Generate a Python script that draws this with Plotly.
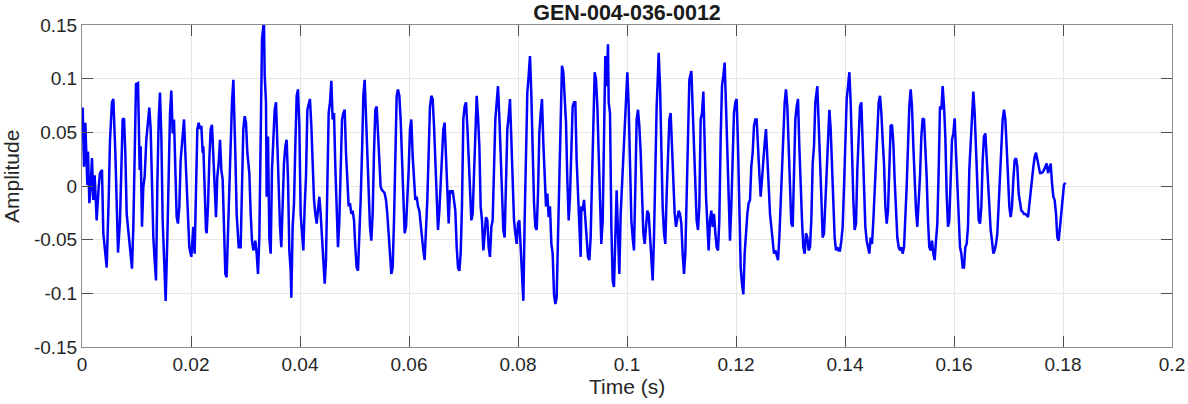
import plotly.graph_objects as go

# waveform: time in ms, amplitude
time_ms = [
    0.0, 0.12, 0.37, 0.61, 0.98, 1.10, 1.35, 1.59, 1.83, 2.08, 2.32, 2.69, 3.06, 3.30, 3.67, 3.91,
    4.28, 4.53, 4.89, 5.14, 5.50, 5.75, 6.12, 6.36, 6.61, 6.97, 7.22, 7.46, 7.71, 7.95, 8.20, 8.44,
    8.81, 9.17, 9.42, 9.66, 9.91, 10.28, 10.46, 10.58, 10.76, 11.01, 11.25, 11.50, 11.80, 12.11,
    12.35, 12.60, 12.84, 13.09, 13.33, 13.58, 13.82, 14.07, 14.31, 14.56, 14.80, 15.05, 15.35,
    15.66, 15.90, 16.15, 16.39, 16.64, 16.88, 17.13, 17.37, 17.61, 17.86, 18.10, 18.47, 18.72,
    18.96, 19.33, 19.69, 20.06, 20.43, 20.67, 20.92, 21.16, 21.41, 21.65, 21.90, 22.14,
    22.26, 22.51, 22.75, 22.87, 23.12, 23.36, 23.61, 23.85, 24.10, 24.34, 24.59, 24.83, 25.08,
    25.32, 25.57, 25.81, 26.06, 26.30, 26.54, 26.79, 27.03, 27.28, 27.52, 27.77, 27.89, 28.13,
    28.38, 28.75, 29.11, 29.36, 29.60, 29.85, 30.09, 30.34, 30.70, 30.95, 31.19, 31.44, 31.80,
    32.05, 32.29, 32.54, 32.78, 33.03, 33.27, 33.39, 33.52, 33.76, 33.88, 34.13, 34.37, 34.62,
    34.86, 35.11, 35.35, 35.60, 35.84, 36.09, 36.33, 36.57, 36.82, 37.06, 37.31, 37.55, 37.80,
    38.04, 38.29, 38.41, 38.65, 38.90, 39.14, 39.39, 39.63, 39.88, 40.12, 40.37, 40.61, 40.86,
    41.10, 41.35, 41.59, 41.83, 42.08, 42.32, 42.57, 42.81, 43.06, 43.30, 43.55, 43.79, 44.04,
    44.28, 44.53, 44.77, 45.02, 45.26,
    45.50, 45.75, 45.99, 46.24, 46.48, 46.73, 46.97, 47.22, 47.46, 47.71, 47.95, 48.20, 48.44,
    48.69, 48.93, 49.17, 49.42, 49.66, 49.91, 50.15, 50.40, 50.64, 50.89, 51.13, 51.38, 51.62,
    51.87, 52.11, 52.35, 52.60, 52.84, 53.09, 53.33, 53.58, 53.82, 54.07, 54.31, 54.56, 54.80,
    55.05, 55.29, 55.54, 55.78, 56.02, 56.27, 56.51, 56.76, 57.00, 57.25, 57.49, 57.74, 57.98,
    58.23, 58.47, 58.72, 58.96, 59.20, 59.45, 59.69, 59.94, 60.18, 60.43, 60.67, 60.92, 61.16,
    61.41, 61.65, 61.90, 62.14, 62.39, 62.63, 62.87, 63.12, 63.36, 63.61, 63.85, 64.10, 64.34,
    64.59, 64.83, 65.08, 65.32, 65.57, 65.81, 66.06, 66.30, 66.54, 66.79,
    66.91, 67.03, 67.28, 67.52, 67.77, 68.01, 68.26, 68.50, 68.75, 68.99, 69.24, 69.48, 69.72,
    69.97, 70.21, 70.46, 70.70, 70.95, 71.19, 71.44, 71.68, 71.93, 72.17, 72.42, 72.66, 72.91,
    73.15, 73.39, 73.64, 73.88, 74.13, 74.37, 74.62, 74.86, 75.11, 75.35, 75.60, 75.84, 76.09,
    76.33, 76.57, 76.82, 77.06, 77.31, 77.55, 77.80, 78.04, 78.29, 78.53, 78.78, 79.02, 79.27,
    79.51, 79.76, 80.00, 80.24, 80.49, 80.73, 80.98, 81.22, 81.47, 81.71, 81.96, 82.20, 82.45,
    82.69, 82.94, 83.18, 83.43, 83.67, 83.91, 84.16, 84.40, 84.65, 84.89, 85.14, 85.38, 85.63,
    85.87, 86.12, 86.36, 86.61, 86.85, 87.09, 87.34, 87.58, 87.83, 88.07, 88.32, 88.56, 88.81,
    89.05, 89.30, 89.54,
    89.79, 90.03, 90.28, 90.52, 90.76, 91.01, 91.25, 91.50, 91.62, 91.87, 92.11, 92.35, 92.60,
    92.84, 93.09, 93.33, 93.58, 93.82, 94.07, 94.31, 94.56, 94.80, 95.05, 95.29, 95.54, 95.78,
    96.02, 96.27, 96.51, 96.64, 96.88, 97.13, 97.37, 97.61, 97.86, 98.10, 98.35, 98.59, 98.84,
    99.08, 99.33, 99.57, 99.82, 100.06, 100.31, 100.55, 100.80, 101.04, 101.28, 101.53, 101.77,
    102.02, 102.26, 102.51, 102.75, 103.00, 103.24, 103.49, 103.73, 103.98, 104.22, 104.46,
    104.71, 104.95, 105.20, 105.44, 105.69, 105.81, 106.06, 106.30, 106.54, 106.79, 107.03,
    107.28, 107.52, 107.77, 108.01, 108.26, 108.50, 108.75, 108.99, 109.24, 109.48, 109.72,
    109.97, 110.21, 110.46, 110.70, 110.95, 111.19,
    111.44, 111.81, 112.05, 112.29, 112.54, 112.78, 113.03, 113.27, 113.52, 113.76, 114.01,
    114.25, 114.50, 114.74, 114.98, 115.23, 115.47, 115.72, 115.96, 116.21, 116.45, 116.70,
    116.94, 117.19, 117.43, 117.68, 117.92, 118.17, 118.41, 118.65, 118.90, 119.14, 119.39,
    119.63, 119.88, 120.12, 120.37, 120.61, 120.86, 121.10, 121.35, 121.59, 121.83, 122.08,
    122.32, 122.57, 122.81, 123.06, 123.30, 123.55, 123.79, 124.04, 124.28, 124.53, 124.77,
    125.02, 125.26, 125.50, 125.75, 125.99, 126.24, 126.48, 126.73, 126.97, 127.22, 127.46,
    127.71, 127.95, 128.20, 128.44, 128.69, 128.93, 129.17, 129.42, 129.66, 129.91, 130.15,
    130.40, 130.64, 130.89, 131.13, 131.38, 131.62, 131.87, 132.11, 132.35, 132.60, 132.84,
    133.09, 133.33, 133.58,
    133.82, 134.07, 134.31, 134.56, 134.92, 135.17, 135.41, 135.66, 135.90, 136.15, 136.39,
    136.64, 136.88, 137.13, 137.37, 137.61, 137.86, 138.10, 138.35, 138.59, 138.84, 139.08,
    139.33, 139.57, 139.82, 140.06, 140.31, 140.55, 140.80, 141.04, 141.28, 141.53, 141.77,
    142.02, 142.26, 142.51, 142.75, 143.00, 143.24, 143.49, 143.73, 143.98, 144.22, 144.46,
    144.71, 144.95, 145.20, 145.44, 145.69, 145.93, 146.18, 146.42, 146.67, 146.91, 147.16,
    147.40, 147.65, 147.89, 148.13, 148.38, 148.62, 148.87, 149.11, 149.36, 149.60, 149.85,
    150.09, 150.34, 150.58, 150.83, 151.07, 151.31, 151.56, 151.80, 152.05, 152.29, 152.54,
    152.78, 153.03, 153.27, 153.52, 153.76, 154.01, 154.25, 154.50, 154.74, 154.98, 155.23,
    155.47, 155.72, 155.96,
    156.21, 156.45, 156.70, 156.94, 157.19, 157.43, 157.68, 157.92, 158.17, 158.41, 158.65,
    158.90, 159.14, 159.39, 159.63, 159.88, 160.12, 160.37, 160.61, 160.86, 161.10, 161.35,
    161.59, 161.83, 162.08, 162.32, 162.57, 162.81, 163.06, 163.30, 163.55, 163.79, 164.04,
    164.28, 164.53, 164.77, 165.02, 165.26, 165.50, 165.75, 165.99, 166.24, 166.48, 166.73,
    166.97, 167.22, 167.46, 167.71, 167.95, 168.20, 168.44, 168.69, 168.93, 169.17, 169.42,
    169.66, 169.91, 170.15, 170.40, 170.64, 170.89, 171.13, 171.38, 171.62, 171.87, 172.11,
    172.35, 172.60, 172.84, 173.09, 173.33, 173.58, 173.82, 174.07, 174.31, 174.56, 174.80,
    175.05, 175.29, 175.54, 175.78, 176.02, 176.27, 176.51, 176.76, 177.00, 177.25, 177.49,
    177.74, 177.98, 178.23, 178.47, 178.72, 178.96, 179.20, 179.45, 179.69, 179.94, 180.18,
    180.43,
]

amplitude = [
    0.070, 0.073, 0.018, 0.059, 0.001, 0.032, -0.016, -0.001, 0.026, -0.013, 0.010, -0.032,
    -0.001, 0.012, 0.015, -0.044, -0.063, -0.076, -0.013, 0.043, 0.078, 0.081, 0.031, -0.032,
    -0.062, -0.032, 0.024, 0.062, 0.063, 0.031, -0.026, -0.038, -0.063, -0.077, -0.038, 0.031,
    0.095, 0.096, 0.062, 0.015, 0.037, -0.038, -0.001, 0.009, 0.043, 0.062, 0.073, 0.053,
    -0.007, -0.048, -0.069, -0.088, -0.001, 0.062, 0.087, 0.046, -0.032, -0.069, -0.107, -0.048,
    0.031, 0.068, 0.089, 0.049, 0.062, 0.015, -0.029, -0.035, -0.019, 0.024, 0.053, 0.062,
    0.031, -0.019, -0.057, -0.066, -0.038, -0.063, 0.012, 0.053, 0.059, 0.053, 0.056, 0.031,
    0.037, -0.013, -0.041, -0.044, -0.019, 0.024, 0.053, 0.057, 0.024, -0.010, -0.029, 0.009,
    0.021, 0.043, 0.015, 0.006, -0.035, -0.082, -0.085, -0.044, -0.007, 0.056, 0.078, 0.099,
    0.081, 0.031, -0.026, -0.057, -0.057, -0.007, 0.053, 0.065, 0.059, 0.031, 0.012, -0.026,
    -0.051, -0.060, -0.051, -0.063, -0.082, -0.048, 0.046, 0.137, 0.149, 0.152, 0.103, 0.078,
    -0.010, 0.046, -0.048, -0.063, 0.015, 0.046, 0.071, 0.078, 0.034, -0.019, -0.038, -0.057,
    -0.016, 0.021, 0.037, 0.043, 0.006, -0.060, -0.079, -0.104, -0.038, -0.016, 0.037, 0.084,
    0.090, 0.056, -0.026, -0.048, -0.060, -0.019, 0.009, 0.071, 0.078, 0.081, 0.056, 0.015,
    -0.013, -0.026, -0.035, -0.022, -0.010, -0.026, -0.048, -0.060, -0.091, -0.069, 0.006,
    0.068,
    0.078, 0.098, 0.062, 0.068, 0.018, -0.032, -0.057, -0.032, 0.015, 0.062, 0.068, 0.071,
    0.031, -0.004, -0.019, -0.016, -0.026, -0.023, -0.032, -0.057, -0.076, -0.079, -0.051,
    -0.013, 0.031, 0.084, 0.099, 0.062, 0.024, -0.019, -0.038, -0.051, -0.026, 0.031, 0.071,
    0.074, 0.053, 0.031, -0.001, -0.004, -0.005, -0.007, -0.013, -0.026, -0.041, -0.063,
    -0.082, -0.076, -0.032, 0.031, 0.084, 0.090, 0.084, 0.062, 0.024, -0.007, -0.044, -0.038,
    -0.013, 0.015, 0.053, 0.062, 0.028, -0.001, -0.013, -0.010, -0.019, -0.023, -0.038,
    -0.051, -0.060, -0.069, -0.044, -0.013, 0.031, 0.074, 0.084, 0.081, 0.056, 0.018, -0.019,
    -0.041, -0.023, 0.006, 0.037, 0.053, 0.059, 0.024,
    0.006, -0.019, -0.035, -0.004, -0.007, -0.004, -0.013, -0.023, -0.057, -0.076, -0.079,
    -0.063, -0.019, 0.062, 0.074, 0.078, 0.056, 0.021, -0.013, -0.032, -0.026, 0.006, 0.037,
    0.084, 0.065, 0.037, -0.019, -0.032, -0.060, -0.044, -0.029, -0.032, -0.057, -0.066,
    -0.038, -0.032, 0.015, 0.062, 0.078, 0.093, 0.065, 0.024, -0.016, -0.041, -0.048, -0.001,
    0.053, 0.065, 0.081, 0.043, 0.003, -0.032, -0.044, -0.054, -0.035, -0.032, -0.057, -0.082,
    -0.107, -0.032, 0.037, 0.087, 0.103, 0.121, 0.084, 0.024, -0.016, -0.038, -0.041, -0.007,
    0.049, 0.068, 0.081, 0.040, 0.006, -0.019, -0.007, -0.029, -0.019, -0.054, -0.063, -0.101,
    -0.110, -0.104, -0.048, 0.009, 0.078, 0.112, 0.106, 0.081, 0.059, 0.006, -0.032, -0.010,
    0.037, 0.074, 0.078, 0.078, 0.024, -0.010, -0.048, -0.066, -0.019, -0.023, -0.013, -0.032,
    -0.044, -0.066, -0.069, -0.048, 0.006, 0.068, 0.106, 0.099, 0.074, 0.031, -0.026, -0.054,
    -0.032, 0.040, 0.121, 0.093, 0.132, 0.078, 0.068, -0.038, -0.088, -0.094, -0.035, -0.004,
    -0.044, -0.082, -0.026, -0.001, 0.031, 0.062, 0.087, 0.106, 0.074, 0.012, -0.032, -0.048,
    -0.060, -0.001, 0.062, 0.071, 0.056, 0.031, -0.007, -0.044, -0.054, -0.035, -0.023,
    -0.026, -0.044, -0.069, -0.088, -0.048, 0.031, 0.074, 0.106, 0.124, 0.093, 0.031, -0.019,
    -0.044, -0.054, -0.007, 0.037, 0.062, 0.068, 0.037, -0.004, -0.026, -0.038, -0.029,
    -0.023, -0.026, -0.035, -0.063, -0.082, -0.063, -0.007, 0.046,
    0.099, 0.107, 0.074, 0.031, -0.007, -0.032, -0.041, -0.019, 0.062, 0.068, 0.088, 0.037,
    -0.010, -0.035, -0.060, -0.032, -0.023, -0.038, -0.026, -0.044, -0.057, -0.060, -0.032,
    0.046, 0.093, 0.103, 0.115, 0.074, 0.024, -0.019, -0.051, -0.019, 0.031, 0.068, 0.078,
    0.081, 0.037, -0.019, -0.076, -0.091, -0.101, -0.063, -0.038, -0.026, -0.016, -0.013,
    0.018, 0.031, 0.056, 0.062, 0.062, 0.031, 0.012, -0.010, 0.009, 0.024, 0.040, 0.053,
    0.024, -0.007, -0.026, -0.038, -0.051, -0.063, -0.060, -0.066, -0.069, -0.048, -0.013,
    0.024, 0.062, 0.078, 0.090, 0.074, 0.037, -0.007, -0.035, -0.038, 0.015, 0.062, 0.074,
    0.081, 0.037, -0.007, -0.032, -0.057, -0.063, -0.044, -0.048, -0.060, -0.057,
    -0.032, 0.021, 0.037, 0.078, 0.093, 0.062, 0.031, -0.010, -0.048, -0.044, -0.016, 0.015,
    0.056, 0.071, 0.053, 0.015, -0.019, -0.048, -0.060, -0.057, -0.060, -0.060, -0.051,
    -0.038, -0.001, 0.046, 0.081, 0.093, 0.106, 0.078, 0.024, -0.013, -0.041, -0.035, 0.015,
    0.046, 0.074, 0.078, 0.037, -0.001, -0.038, -0.051, -0.057, -0.063, -0.048, -0.054,
    -0.032, -0.007, 0.024, 0.056, 0.078, 0.084, 0.068, 0.043, 0.021, -0.019, -0.035, -0.023,
    0.009, 0.056, 0.057, 0.040, 0.006, -0.026, -0.048, -0.057, -0.060, -0.057, -0.063,
    -0.057, -0.035, -0.001, 0.037, 0.074, 0.090, 0.074, 0.037, 0.003, -0.023, -0.038, -0.019,
    0.009, 0.046, 0.063, 0.062, 0.037, 0.009, -0.032, -0.057, -0.060, -0.051,
    -0.063, -0.069, -0.051, -0.035, 0.015, 0.074, 0.071, 0.093, 0.074, 0.046, -0.007, -0.038,
    -0.032, 0.006, 0.043, 0.049, 0.063, 0.031, -0.001, -0.032, -0.057, -0.063, -0.076,
    -0.076, -0.057, -0.054, -0.038, 0.015, 0.040, 0.068, 0.088, 0.068, 0.037, -0.001, -0.032,
    -0.035, -0.019, 0.024, 0.046, 0.049, 0.024, -0.001, -0.019, -0.041, -0.051, -0.063,
    -0.060, -0.054, -0.044, -0.019, 0.012, 0.043, 0.062, 0.071, 0.062, 0.037, 0.006, -0.019,
    -0.029, -0.019, 0.006, 0.024, 0.026, 0.018, -0.007, -0.016, -0.023, -0.024, -0.026,
    -0.026, -0.027, -0.029, -0.019, -0.007, 0.006, 0.018, 0.027, 0.031, 0.024, 0.015, 0.012,
    0.012, 0.013, 0.015, 0.018, 0.021, 0.012, 0.018, 0.021, 0.003, -0.010, -0.013, -0.026,
    -0.048, -0.051, -0.038, -0.026, -0.010, 0.001, 0.003,
]

x_ticks = [0, 0.02, 0.04, 0.06, 0.08, 0.1, 0.12, 0.14, 0.16, 0.18, 0.2]
x_labels = ["0", "0.02", "0.04", "0.06", "0.08", "0.1", "0.12", "0.14", "0.16", "0.18", "0.2"]
y_ticks = [-0.15, -0.1, -0.05, 0, 0.05, 0.1, 0.15]
y_labels = ["-0.15", "-0.1", "-0.05", "0", "0.05", "0.1", "0.15"]

time_s = [t / 1000 for t in time_ms]

font = "Liberation Sans, Arial, Helvetica, sans-serif"

fig = go.Figure()
fig.add_trace(go.Scatter(x=time_s, y=amplitude, mode="lines",
                         line=dict(color="#0000ff", width=2.5), showlegend=False))

fig.update_layout(
    width=1188, height=404,
    margin=dict(l=82, r=16, t=25, b=57),
    paper_bgcolor="white", plot_bgcolor="white",
    font=dict(family=font, size=19, color="#262626"),
    title=dict(text="<b>GEN-004-036-0012</b>", x=0.5, xref="paper",
               y=0.970, yref="container", yanchor="middle",
               font=dict(size=21.5, color="#1a1a1a")),
)

axis_style = dict(showline=True, linecolor="#8c8c8c", linewidth=1, mirror="ticks",
                  ticks="inside", ticklen=11, tickcolor="#4d4d4d", tickwidth=1,
                  showgrid=True, gridcolor="#e6e6e6", gridwidth=1, zeroline=False,
                  automargin=False)

fig.update_xaxes(range=[0, 0.2], tickvals=x_ticks, ticktext=x_labels, **axis_style)
fig.update_yaxes(range=[-0.15, 0.15], tickvals=y_ticks, ticktext=y_labels, **axis_style)

# axis titles placed like the MATLAB figure
fig.add_annotation(text="Time (s)", xref="paper", yref="paper", x=0.5, y=0,
                   yshift=-39, showarrow=False, yanchor="middle",
                   font=dict(size=21, color="#262626"))
fig.add_annotation(text="Amplitude", xref="paper", yref="paper", x=0, y=0.5,
                   xshift=-71, yshift=9, showarrow=False, textangle=-90,
                   xanchor="center", font=dict(size=21, color="#262626"))

# the page body has a default 8px margin; drop it so the figure fills the window
fig.write_html("out.html", config={"displayModeBar": False},
               post_script="document.body.style.margin='0px';")
